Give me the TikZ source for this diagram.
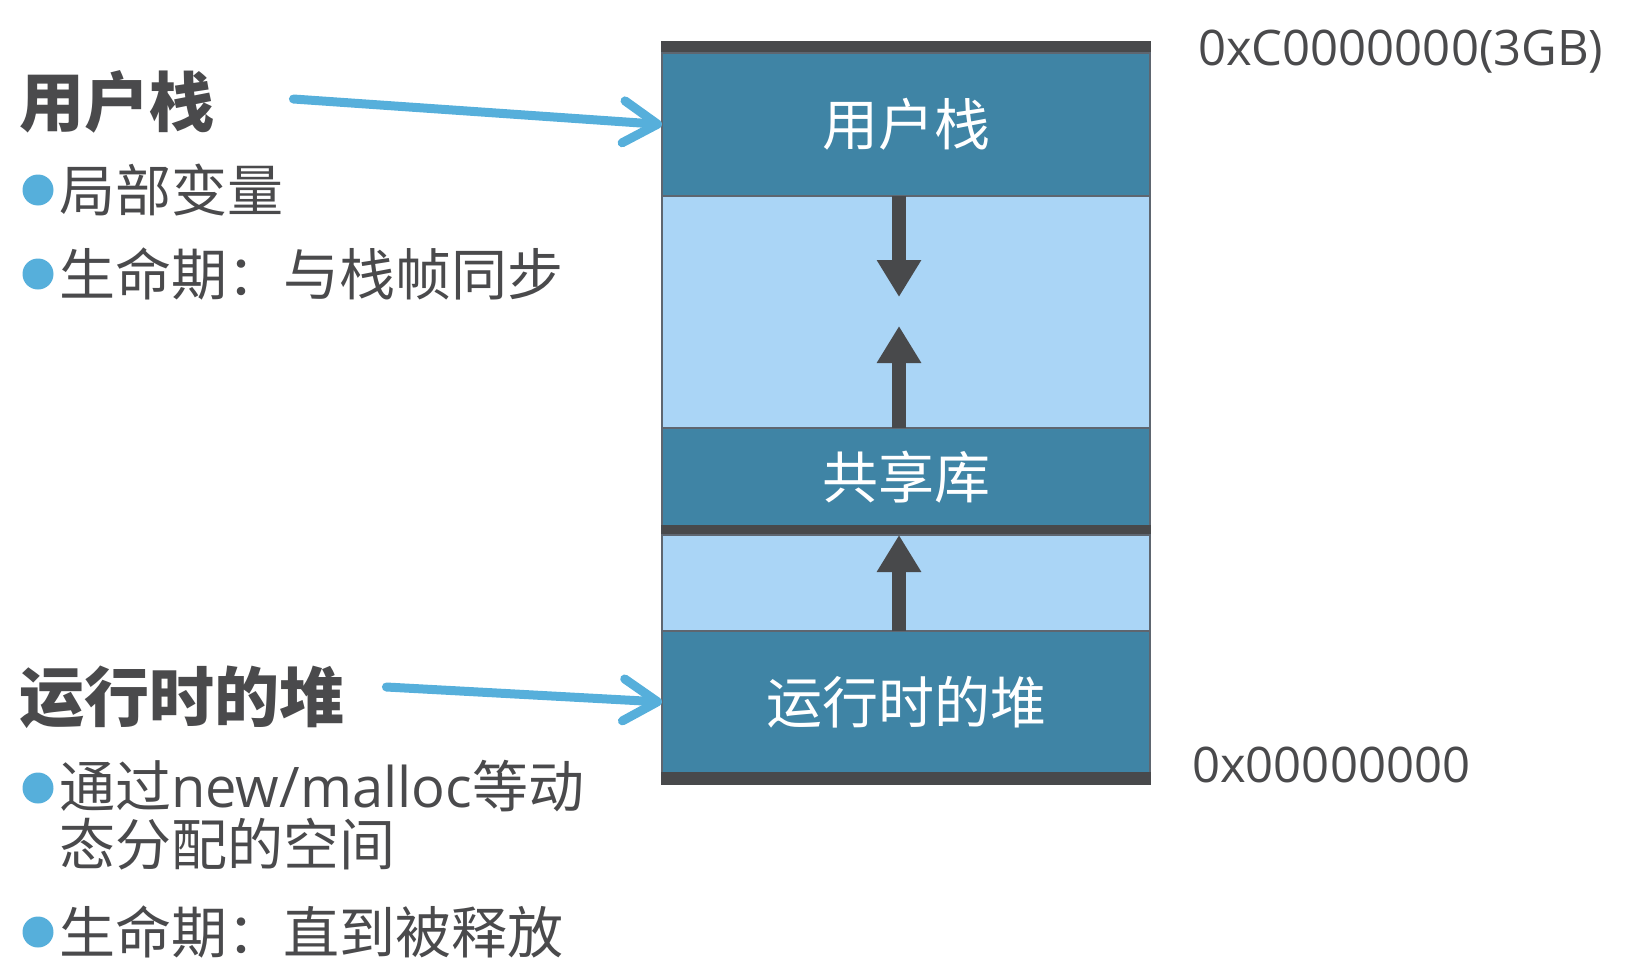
\documentclass[tikz,border=0pt]{standalone}
\usepackage{fontspec}
\setmainfont{Noto Sans CJK SC}
\newfontfamily\lat{Open Sans}
\usetikzlibrary{positioning,calc,arrows.meta}

\definecolor{regionblue}{HTML}{3F84A5}
\definecolor{gapblue}{HTML}{AAD5F6}
\definecolor{bardark}{HTML}{48494B}
\definecolor{pointblue}{HTML}{56AFDB}
\definecolor{inkgray}{HTML}{4A4A4C}
\definecolor{edgegray}{HTML}{5E6670}

\begin{document}
\begin{tikzpicture}[x=1pt,y=1pt,
        block/.style={minimum width=488pt,outer sep=0pt,inner sep=0pt,draw=edgegray,line width=1.2pt,rectangle,node distance=0pt},
        region/.style={block,fill=regionblue,text=white,font=\fontsize{56}{60}\selectfont},
        gapzone/.style={block,fill=gapblue},
        bar/.style={block,fill=bardark,draw=bardark},
        growarrow/.style={draw=bardark,line width=14pt,-{Triangle[length=37pt,width=42pt]}},
        pointer/.style={draw=pointblue,line width=9pt,line cap=round,-{Straight Barb[length=34pt,width=42pt,round]}},
        title/.style={anchor=west,inner sep=0pt,text=inkgray,font=\bfseries\fontsize{65}{65}\selectfont},
        item/.style={anchor=west,inner sep=0pt,text=inkgray,align=left,font=\fontsize{56}{58}\selectfont},
        dot/.style={circle,fill=pointblue,minimum size=31pt,inner sep=0pt},
        addr/.style={anchor=west,inner sep=0pt,text=inkgray,font=\lat\fontsize{49}{49}\selectfont}]
   \useasboundingbox (0,0) rectangle (1632,-966);
   % memory column
   \node (topbar) [bar,minimum height=11pt] at (906,-47.5) {};
   \node (stack) [region,minimum height=143pt,below=of topbar] {用户栈};
   \node (gapA) [gapzone,minimum height=232pt,below=of stack] {};
   \node (lib) [region,minimum height=98pt,below=of gapA] {共享库};
   \node (midbar) [bar,minimum height=9pt,below=of lib] {};
   \node (gapB) [gapzone,minimum height=96pt,below=of midbar] {};
   \node (heap) [region,minimum height=142pt,below=of gapB] {运行时的堆};
   \node (botbar) [bar,minimum height=11pt,below=of heap] {};
   % growth arrows
   \coordinate (downtip) at ($(stack.south)+(-7,-101)$);
   \coordinate (uptip) at ($(lib.north)+(-7,102)$);
   \draw[growarrow] ([xshift=-7pt]stack.south) -- (downtip);
   \draw[growarrow] ([xshift=-7pt]lib.north) -- (uptip);
   \draw[growarrow] ([xshift=-7pt]heap.north) -- ([xshift=-7pt]midbar.south);
   % addresses
   \node (hiaddr) [addr,right=48pt of topbar,yshift=-4pt] {0xC0000000(3GB)};
   \node (loaddr) [addr,right=42pt of botbar,yshift=14pt] {0x00000000};
   % left notes
   \node (stacktitle) [title] at (19,-102) {用户栈};
   \node (dot1) [dot] at (38,-190) {};
   \node (item1) [item] at (59,-190) {局部变量};
   \node (dot2) [dot] at (38,-274) {};
   \node (item2) [item] at (59,-274) {生命期：与栈帧同步};
   \node (heaptitle) [title] at (19,-697) {运行时的堆};
   \node (dot3) [dot] at (38,-788) {};
   \node (item3) [item] at (59,-815) {通过{\lat new/malloc}等动\\态分配的空间};
   \node (dot4) [dot] at (38,-932) {};
   \node (item4) [item] at (59,-932) {生命期：直到被释放};
   \draw[pointer] ([xshift=79pt,yshift=3pt]stacktitle.east) -- (stack.west);
   \draw[pointer] ([xshift=42pt,yshift=10pt]heaptitle.east) -- (heap.west);
\end{tikzpicture}
\end{document}
